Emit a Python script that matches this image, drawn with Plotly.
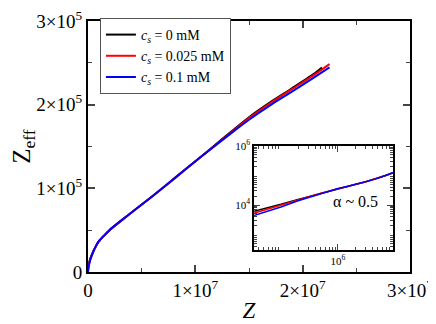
import plotly.graph_objects as go

# Z values (shared by red and blue); black stops a little earlier
z_all = [0, 3e4, 5e4, 1e5, 2e5, 5e5, 7e5, 1e6, 1.5e6, 2e6, 3e6, 4.5e6, 6e6, 7.5e6, 9e6,
         1.05e7, 1.2e7, 1.35e7, 1.5e7, 1.7e7, 1.9e7, 2.1e7, 2.25e7]
z_black = [0, 3e4, 5e4, 1e5, 2e5, 5e5, 7e5, 1e6, 1.5e6, 2e6, 3e6, 4.5e6, 6e6, 7.5e6, 9e6,
           1.05e7, 1.2e7, 1.35e7, 1.5e7, 1.7e7, 1.9e7, 2.1e7, 2.18e7]

zeff_0 = [0, 5800, 7400, 10600, 15500, 25000, 30000, 36500, 43500, 50000, 60500, 75500, 90500,
          106000, 122000, 137500, 153500, 169500, 185000, 203000, 219500, 236500, 244500]
zeff_0025 = [0, 5000, 6600, 9800, 14800, 25000, 30000, 36500, 43500, 50000, 60500, 75500, 90500,
             106000, 122000, 137500, 153000, 168500, 184000, 202000, 218500, 235000, 248500]
zeff_01 = [0, 4100, 5500, 8600, 14000, 24500, 30000, 36500, 43500, 50000, 60500, 75500, 90500,
           106000, 122000, 137500, 152500, 167500, 182000, 199500, 215500, 232000, 244500]

names = ["<i>c<sub>s</sub></i> = 0 mM", "<i>c<sub>s</sub></i> = 0.025 mM", "<i>c<sub>s</sub></i> = 0.1 mM"]
colors = ["black", "#ff0000", "#0000ff"]
xs = [z_black, z_all, z_all]
ys = [zeff_0, zeff_0025, zeff_01]

x_ticks = [0, 1e7, 2e7, 3e7]
x_text = ["0", "1×10<sup>7</sup>", "2×10<sup>7</sup>", "3×10<sup>7</sup>"]
y_ticks = [0, 1e5, 2e5, 3e5]
y_text = ["0", "1×10<sup>5</sup>", "2×10<sup>5</sup>", "3×10<sup>5</sup>"]

fig = go.Figure()
for x, y, n, c in zip(xs, ys, names, colors):
    fig.add_trace(go.Scatter(x=x, y=y, name=n, mode="lines",
                             line=dict(color=c, width=2, shape="spline", smoothing=0.6)))
# inset, log-log
for x, y, c in zip(xs, ys, colors):
    fig.add_trace(go.Scatter(x=x[1:], y=y[1:], mode="lines", showlegend=False,
                             line=dict(color=c, width=1.5), xaxis="x2", yaxis="y2"))

serif = "Liberation Serif, Times New Roman, serif"
minor_log = [m * 10 ** e for e in range(2, 8) for m in range(2, 10)]

# page body has an 8px margin, so the figure is shrunk and shifted by that much
fig.update_layout(
    width=428, height=316,
    margin=dict(l=80, r=26, t=5, b=52),
    paper_bgcolor="white", plot_bgcolor="white",
    font=dict(family=serif, color="black", size=19),
    xaxis=dict(range=[0, 3e7], tickmode="array", tickvals=x_ticks, ticktext=x_text,
               ticks="inside", ticklen=7, tickwidth=1.5, mirror="allticks", automargin=False,
               ticklabeloverflow="allow",
               showline=True, linecolor="black", linewidth=2, showgrid=False, zeroline=False,
               minor=dict(tickmode="array", tickvals=[5e6, 1.5e7, 2.5e7], ticks="inside",
                          ticklen=4, tickwidth=1.2, showgrid=False),
               title=dict(text="<i>Z</i>", font=dict(size=23), standoff=2),
               domain=[0, 1]),
    yaxis=dict(range=[0, 3e5], tickmode="array", tickvals=y_ticks, ticktext=y_text,
               ticks="inside", ticklen=7, tickwidth=1.5, mirror="allticks", automargin=False,
               ticklabeloverflow="allow",
               showline=True, linecolor="black", linewidth=2, showgrid=False, zeroline=False,
               minor=dict(tickmode="array", tickvals=[5e4, 1.5e5, 2.5e5], ticks="inside",
                          ticklen=4, tickwidth=1.2, showgrid=False),
               title=dict(text="Z<sub>eff</sub>", font=dict(size=25), standoff=6),
               domain=[0, 1]),
    xaxis2=dict(type="log", range=[4.53, 6.965], domain=[0.516, 0.947], anchor="y2",
                tickmode="array", tickvals=[1e6], ticktext=["10<sup>6</sup>"],
                tickfont=dict(size=11), ticks="inside", ticklen=6, mirror="allticks",
                showline=True, linecolor="black", linewidth=1.5, showgrid=False,
                minor=dict(tickmode="array", tickvals=minor_log, ticks="inside",
                           ticklen=3, showgrid=False)),
    yaxis2=dict(type="log", range=[2.49, 6.0], domain=[0.089, 0.502], anchor="x2",
                tickmode="array", tickvals=[1e4, 1e6], ticktext=["10<sup>4</sup>", "10<sup>6</sup>"],
                tickfont=dict(size=11), ticks="inside", ticklen=6, mirror="allticks",
                showline=True, linecolor="black", linewidth=1.5, showgrid=False,
                minor=dict(tickmode="array", tickvals=minor_log, ticks="inside",
                           ticklen=3, showgrid=False)),
    legend=dict(x=0.037, y=1.012, xanchor="left", yanchor="top",
                bordercolor="#555555", borderwidth=1, bgcolor="white",
                font=dict(size=14), tracegroupgap=0, itemwidth=30),
    annotations=[dict(text="α ~ 0.5", xref="paper", yref="paper", x=0.83, y=0.28,
                      xanchor="center", yanchor="middle",
                      showarrow=False, font=dict(size=16))],
)

fig.write_html("out.html")
